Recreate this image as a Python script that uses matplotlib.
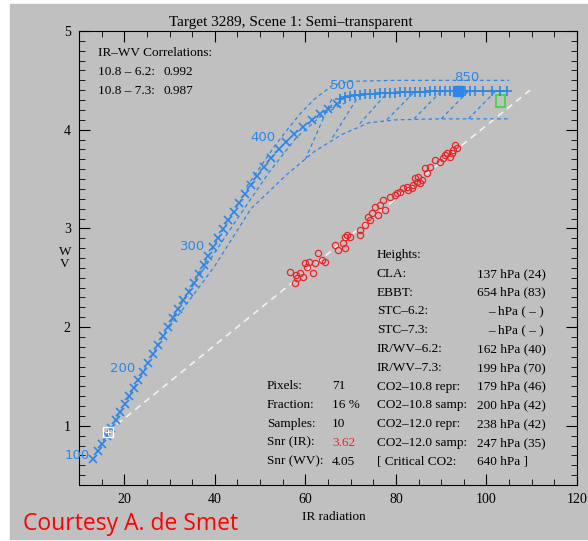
import matplotlib.pyplot as plt
from matplotlib.patches import Rectangle

plt.rcParams['font.family'] = ['Liberation Serif', 'DejaVu Serif']

# opaque cloud curve, 'x' part (100-500 hPa)
curve_x = [13.1, 14.1, 15.1, 16.1, 17.1, 18.1, 19.1, 20.1, 21.1, 22.1, 23.1, 24.2,
           25.3, 26.4, 27.5, 28.6, 29.7, 30.8, 31.9, 33.0, 34.2, 35.3, 36.4, 37.5,
           38.6, 39.7, 40.8, 41.9, 43.0, 44.2, 45.4, 46.6, 47.9, 49.3, 50.8, 52.4,
           54.1, 55.8, 57.6, 59.5, 61.4, 63.3, 65.1, 66.9]
curve_y = [0.66, 0.74, 0.82, 0.90, 0.98, 1.06, 1.14, 1.22, 1.30, 1.38, 1.46, 1.55,
           1.64, 1.73, 1.82, 1.91, 2.00, 2.09, 2.18, 2.27, 2.36, 2.45, 2.54, 2.63,
           2.72, 2.81, 2.90, 2.99, 3.08, 3.17, 3.26, 3.35, 3.44, 3.53, 3.62, 3.71,
           3.80, 3.88, 3.96, 4.03, 4.10, 4.16, 4.21, 4.26]
# flat part, '+' markers (500 hPa to surface)
flat_x = [67.7, 68.8, 69.9, 71.0, 72.1, 73.2, 74.3, 75.4, 76.5, 77.6, 78.7, 79.8,
          80.9, 82.0, 83.1, 84.2, 85.3, 86.4, 87.5, 88.6, 89.7, 90.8, 92.0, 93.7,
          95.3, 96.4, 97.5, 99.2, 101.2, 103.0, 104.5]
flat_y = [4.31, 4.33, 4.34, 4.35, 4.35, 4.36, 4.36, 4.36, 4.37, 4.37, 4.37, 4.37,
          4.38, 4.38, 4.38, 4.38, 4.38, 4.38, 4.39, 4.39, 4.39, 4.39, 4.39, 4.39,
          4.39, 4.39, 4.39, 4.39, 4.39, 4.39, 4.39]
p850 = (93.7, 4.39)

# pressure labels
lev_text = ['100', '200', '300', '400', '500', '850']
lev_x = [9.5, 19.7, 35.2, 50.6, 68.3, 95.7]
lev_y = [0.70, 1.58, 2.82, 3.92, 4.45, 4.53]

# dashed envelope curves
upper_x = [47, 50, 53, 56, 59, 62, 66, 70, 80, 90, 105]
upper_y = [3.42, 3.62, 3.82, 4.0, 4.17, 4.31, 4.45, 4.49, 4.50, 4.50, 4.50]
mid_x = [30, 38, 45, 52, 58, 64, 70]
mid_y = [2.05, 2.62, 3.10, 3.57, 3.92, 4.16, 4.30]
lower_x = [30, 40, 48, 56, 62, 68, 74, 80, 90, 105]
lower_y = [2.00, 2.62, 3.20, 3.55, 3.78, 3.95, 4.07, 4.10, 4.11, 4.11]

# semi-transparent connecting lines
diag_x0 = [60, 66, 72, 78, 84, 90, 96]
diag_y0 = [3.70, 3.92, 4.06, 4.10, 4.11, 4.11, 4.11]
diag_x1 = [66, 72, 78, 84, 90, 96, 102]
diag_y1 = [4.33, 4.36, 4.37, 4.38, 4.39, 4.39, 4.39]

# observed pixels
obs_x = [56.6, 57.9, 58.8, 58.2, 57.7, 59.5, 60.4, 59.9, 60.8, 61.7, 62.1, 62.8,
         63.7, 64.3, 66.5, 67.2, 68.8, 68.3, 69.2, 69.9, 72.1, 68.8,
         72.1, 73.2, 73.9, 74.3, 74.7, 75.4, 76.0, 76.5, 77.2, 77.6,
         78.7, 79.8, 80.2, 80.9, 81.6, 82.5, 83.6, 83.8, 84.7, 84.2, 84.9, 85.8,
         86.4, 86.9, 87.5, 88.6, 89.7, 90.4, 90.8, 91.3, 91.9, 92.4, 92.6, 93.1,
         93.5, 85.3, 82.7]
obs_y = [2.56, 2.53, 2.55, 2.50, 2.45, 2.51, 2.61, 2.65, 2.66, 2.55, 2.65, 2.75,
         2.68, 2.66, 2.83, 2.78, 2.80, 2.85, 2.93, 2.91, 2.93, 2.91,
         2.98, 3.03, 3.12, 3.08, 3.16, 3.22, 3.14, 3.24, 3.29, 3.19,
         3.32, 3.34, 3.36, 3.37, 3.41, 3.42, 3.41, 3.44, 3.47, 3.51, 3.52, 3.49,
         3.61, 3.56, 3.62, 3.69, 3.67, 3.71, 3.74, 3.76, 3.72, 3.76, 3.79, 3.84,
         3.81, 3.46, 3.39]

# fit line and points
fit_x = [16.4, 109.6]
fit_y = [0.94, 4.40]
clear_box = (102.1, 4.23, 2.0, 0.12)

corr_lines = ['10.8 \u2013 6.2:', '10.8 \u2013 7.3:']
corr_vals = ['0.992', '0.987']

stat_names = ['Pixels:', 'Fraction:', 'Samples:', 'Snr (IR):', 'Snr (WV):']
stat_vals = ['71', '16 %', '10', '3.62', '4.05']

height_names = ['CLA:', 'EBBT:', 'STC\u20136.2:', 'STC\u20137.3:', 'IR/WV\u20136.2:',
                'IR/WV\u20137.3:', 'CO2\u201310.8 repr:', 'CO2\u201310.8 samp:',
                'CO2\u201312.0 repr:', 'CO2\u201312.0 samp:', '[ Critical CO2:']
height_vals = ['137 hPa (24)', '654 hPa (83)', '\u2013 hPa ( \u2013 )',
               '\u2013 hPa ( \u2013 )', '162 hPa (40)', '199 hPa (70)',
               '179 hPa (46)', '200 hPa (42)', '238 hPa (42)', '247 hPa (35)',
               '640 hPa ]']

blue = '#2e86e6'
gray = '#c0c0c0'

fig = plt.figure(figsize=(5.88, 5.41), dpi=100)
fig.patch.set_facecolor('white')
fig.patches.append(Rectangle((10 / 588, 2 / 541), 578 / 588, 535 / 541,
                             transform=fig.transFigure, color=gray, zorder=-10))
ax = fig.add_axes([79 / 588, 56 / 541, 498 / 588, 454 / 541])
ax.set_facecolor(gray)

ax.plot(fit_x, fit_y, color='#f2f2f2', ls=(0, (4, 3)), lw=1.2)

dash = (0, (3, 2.5))
ax.plot(upper_x, upper_y, color=blue, ls=dash, lw=0.9)
ax.plot(mid_x, mid_y, color=blue, ls=dash, lw=0.9)
ax.plot(lower_x, lower_y, color=blue, ls=dash, lw=0.9)
for x0, y0, x1, y1 in zip(diag_x0, diag_y0, diag_x1, diag_y1):
    ax.plot([x0, x1], [y0, y1], color=blue, ls=dash, lw=0.9)

ax.plot(curve_x, curve_y, color=blue, ls=dash, lw=0.9, marker='x', ms=5.5, mew=1.2)
ax.plot(flat_x, flat_y, color=blue, ls='-', lw=1.0, marker='+', ms=7, mew=1.2)
ax.plot(*p850, marker='s', ms=7, color=blue)

for t, x, y in zip(lev_text, lev_x, lev_y):
    ax.text(x, y, t, color=blue, fontsize=9.5, ha='center', va='center',
            family='DejaVu Sans', clip_on=False)

ax.plot(obs_x, obs_y, ls='none', marker='o', ms=4.5, mfc='none', mec='#e8262a', mew=0.9)

ax.plot(fit_x[0], fit_y[0], marker='s', ms=7, mfc='none', mec='white', mew=1)
ax.plot(fit_x[0], fit_y[0], marker='+', ms=5, color='white', mew=0.8)
ax.add_patch(Rectangle(clear_box[:2], clear_box[2], clear_box[3], fill=False,
                       ec='#33dd33', lw=1.2))

ax.set_xlim(10, 120)
ax.set_ylim(0.4, 5)
ax.set_xticks([20, 40, 60, 80, 100, 120])
ax.set_xticks(range(10, 121, 5), minor=True)
ax.set_yticks([1, 2, 3, 4, 5])
ax.set_yticks([v / 10 for v in range(4, 51)], minor=True)
ax.tick_params(which='both', direction='in', top=True, right=True, labelsize=10, pad=6)
ax.tick_params(which='major', length=8)
ax.tick_params(which='minor', length=4)

fs = 9.5
ax.text(14.2, 4.78, 'IR\u2013WV Correlations:', fontsize=fs, va='center')
for i, (n, v) in enumerate(zip(corr_lines, corr_vals)):
    y = 4.58 - 0.185 * i
    ax.text(14.2, y, n, fontsize=fs, va='center')
    ax.text(28.6, y, v, fontsize=fs, va='center')

ax.text(75.8, 2.73, 'Heights:', fontsize=fs, va='center')
for i, (n, v) in enumerate(zip(height_names, height_vals)):
    y = 2.54 - 0.1905 * i
    ax.text(75.8, y, n, fontsize=fs, va='center')
    if v.startswith('\u2013'):
        ax.text(112.6, y, v, fontsize=fs, va='center', ha='right')
    else:
        ax.text(97.9, y, v, fontsize=fs, va='center')

for i, (n, v) in enumerate(zip(stat_names, stat_vals)):
    y = 1.40 - 0.1905 * i
    ax.text(51.5, y, n, fontsize=fs, va='center')
    ax.text(65.9, y, v, fontsize=fs, va='center',
            color='#e8262a' if n == 'Snr (IR):' else 'black')

ax.text(-0.028, 0.5, 'W\nV', transform=ax.transAxes, fontsize=fs, ha='center',
        va='center', linespacing=1.1)
fig.text(0.495, 0.959, 'Target 3289, Scene 1: Semi\u2013transparent', fontsize=11,
         ha='center', va='center')
fig.text(0.567, 0.044, 'IR radiation', fontsize=fs, ha='center', va='center')
fig.text(23 / 588, 0.031, 'Courtesy A. de Smet', fontsize=16.5, color='red',
         family='Open Sans', va='center')

fig.savefig('out.png', dpi=100, facecolor=fig.get_facecolor())
